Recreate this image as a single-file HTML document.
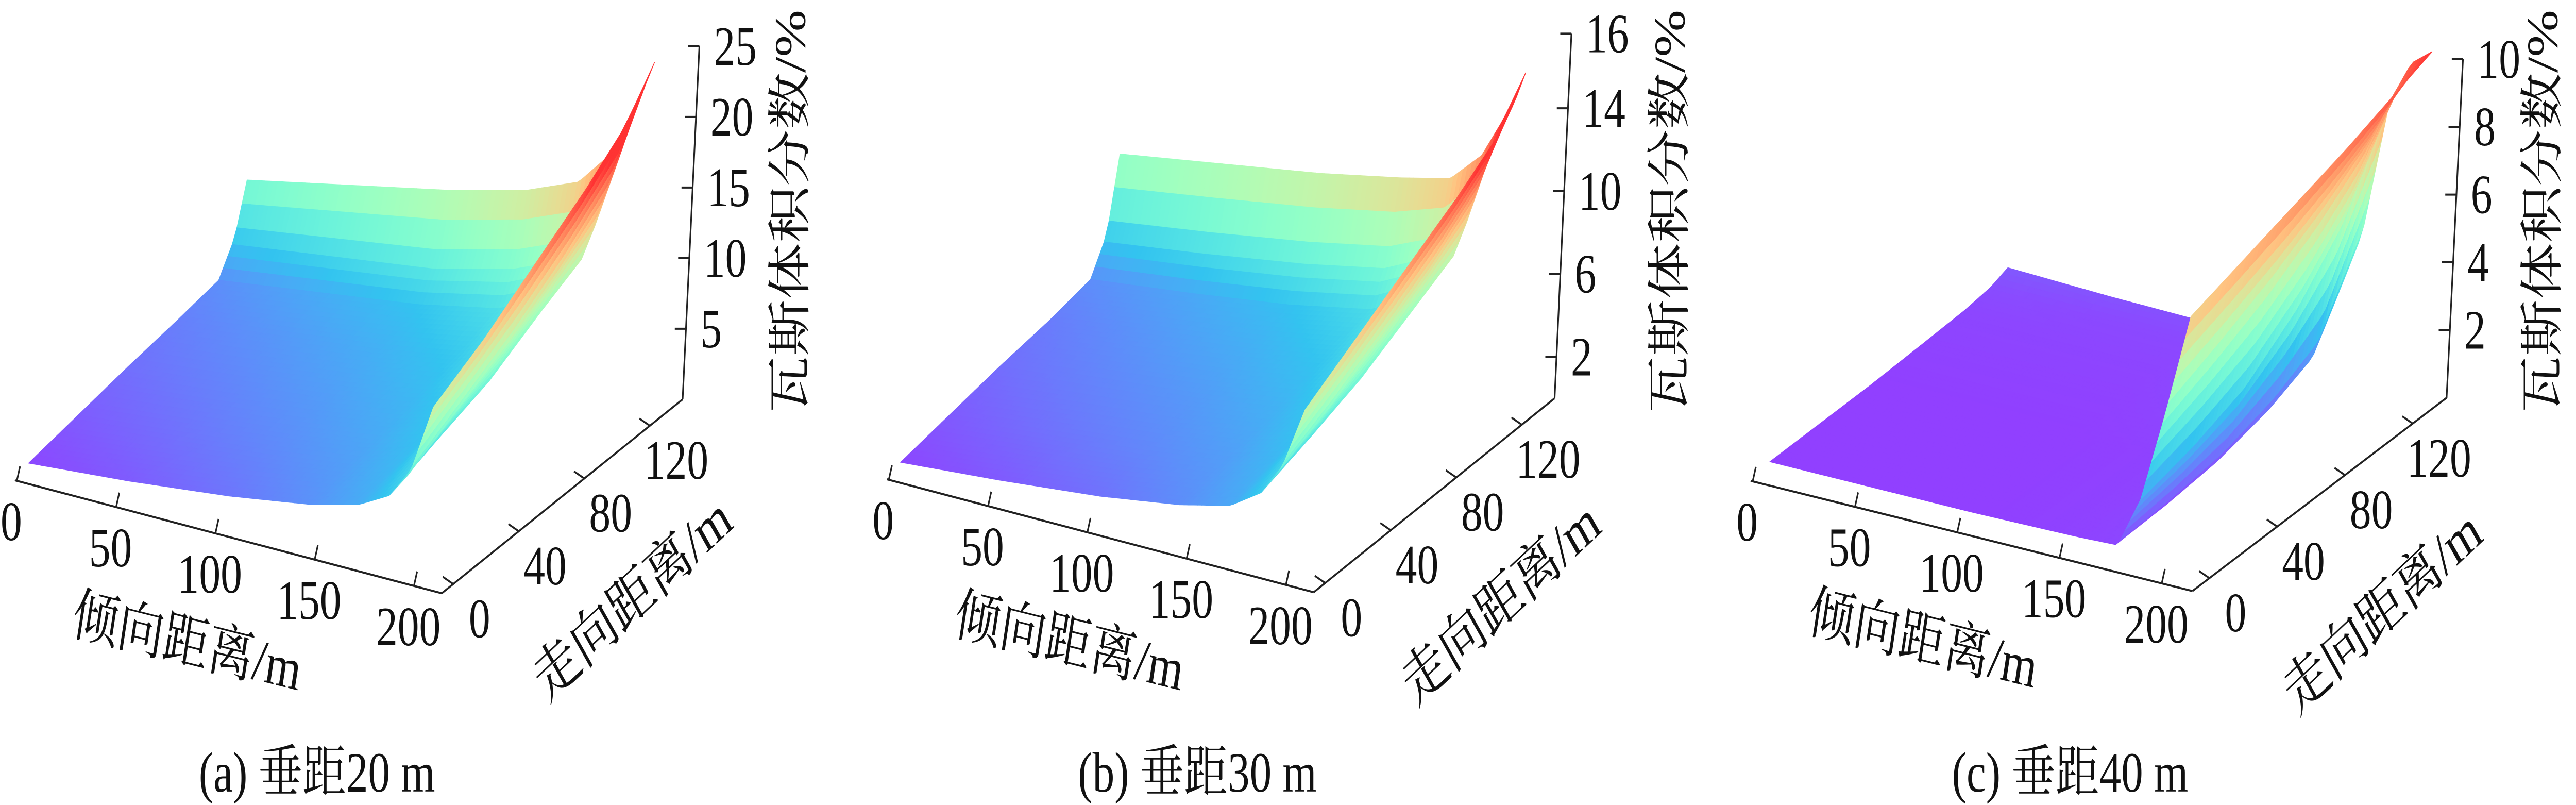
<!DOCTYPE html>
<html><head><meta charset="utf-8">
<style>
html,body{margin:0;padding:0;background:#fff;width:100%;height:100%;overflow:hidden;}
svg{display:block;width:100vw;height:100vh;}
text{font-family:"Liberation Serif","Noto Serif CJK SC","Noto Sans CJK SC",serif;fill:#111;}
</style></head>
<body>
<svg id="fig" viewBox="0 0 6461 1562" preserveAspectRatio="none" overflow="hidden" xmlns="http://www.w3.org/2000/svg">
<rect width="6461" height="1562" fill="#fff"/>
<g id="pa"></g>
<g id="pb"></g>
<g id="pc"></g>
<text x="795" y="1536" font-size="110" text-anchor="middle">(a)  垂距20 m</text>
<text x="3003" y="1536" font-size="110" text-anchor="middle">(b)  垂距30 m</text>
<text x="5192" y="1536" font-size="110" text-anchor="middle">(c)  垂距40 m</text>
</svg>
<script>
// ---- data: panel (a) ----
const dipA=[0,50,100,140,165,180,190,200];
const strikeA=[0,30,60,90,115,124,130];
const zA=[
 [0.6,1.2,2.0,2.9,3.8,5,7,12],
 [1.2,1.9,2.7,3.5,4.5,6.3,9,14],
 [1.8,2.5,3.3,4.2,5.3,7.5,11,16.5],
 [2.3,3.1,4,5,6.5,9.5,13.5,19],
 [2.8,3.8,4.8,6,7.8,11,16,21.5],
 [5,6,7,8.5,10,13,18,23],
 [8.5,10,11.5,13,14.5,17,20.5,24.3]];
// ---- data: panel (b) ----
const dipB=[0,50,100,140,165,180,190,200];
const strikeB=[0,30,60,90,115,124,130];
const zB=[
 [0.4,0.8,1.3,1.9,2.5,3.5,5,8],
 [0.8,1.3,1.8,2.3,3,4.3,6.2,9.5],
 [1.2,1.7,2.2,2.8,3.6,5.2,7.7,11],
 [1.5,2.1,2.7,3.4,4.4,6.5,9.3,12.5],
 [1.9,2.5,3.2,4,5.3,7.6,11,14],
 [3.5,4.2,5,5.8,7,9,12.5,15],
 [7,7.8,8.6,9.4,10,11.5,13.5,16]];
// ---- data: panel (c) ----
const dipC=[0,50,100,150,170,180,190,200];
const strikeC=[0,30,60,90,115,130,140];
const zC=[
 [0.2,0.2,0.2,0.25,0.3,1.8,4.5,7.5],
 [0.2,0.2,0.2,0.25,0.35,2.2,5.2,8],
 [0.2,0.2,0.2,0.25,0.5,2.8,6,8.5],
 [0.25,0.25,0.25,0.35,0.9,4,7,9],
 [0.3,0.3,0.3,0.5,1.5,5.5,8,9.5],
 [0.4,0.35,0.35,1,3,7,9,9.8],
 [0.6,0.5,0.45,2,4,8,9.5,10]];
// ---- tick data ----
const dipTicks=[0,50,100,150,200];
const strikeTicks=[0,40,80,120];
const zTicksA=[5,10,15,20,25];
const zTickLabelsA=["5","10","15","20","25"];
const zTicksB=[2,6,10,14,17.6];
const zTickLabelsB=["2","6","10","14","16"];
const zTicksC=[2,4,6,8,10];
const zTickLabelsC=["2","4","6","8","10"];

const NS="http://www.w3.org/2000/svg";
function mk(tag,attrs,parent){const e=document.createElementNS(NS,tag);for(const k in attrs)e.setAttribute(k,attrs[k]);parent.appendChild(e);return e;}

const panels=[
 {id:'pa',key:'a',D:dipA,S:strikeA,Z:zA,A:[71,915],ud:[4.98,1.02],us:[4.11,-2.56],uz:[1.68,-27.4],
  dLo:-1,dHi:214,sLo:-7,sHi:140,zLo:0,zHi:25,vmax:19,zt:zTicksA,ztl:zTickLabelsA,
  dipTitle:[470,1245],strikeTitle:[1585,1160],zTitle:[1985,410]},
 {id:'pb',key:'b',D:dipB,S:strikeB,Z:zB,A:[2258,913],ud:[4.98,1.02],us:[4.11,-2.56],uz:[2.4,-40.2],
  dLo:-1,dHi:214,sLo:-7,sHi:140,zLo:0,zHi:17.6,vmax:13,zt:zTicksB,ztl:zTickLabelsB,
  dipTitle:[2683,1245],strikeTitle:[3763,1168],zTitle:[4191,410]},
 {id:'pc',key:'c',D:dipC,S:strikeC,Z:zC,A:[4438.5,909],ud:[5.13,0.99],us:[4.25,-2.5],uz:[4.1,-65.7],
  dLo:-1,dHi:215,sLo:-10,sHi:140,zLo:0,zHi:10,vmax:10,zt:zTicksC,ztl:zTickLabelsC,
  dipTitle:[4824,1240],strikeTitle:[5974,1185],zTitle:[6380,410]}
];

function P(p,d,s,z){return [p.A[0]+d*p.ud[0]+s*p.us[0]+z*p.uz[0], p.A[1]+d*p.ud[1]+s*p.us[1]+z*p.uz[1]];}
function seg(arr,v){let i=0;while(i<arr.length-2&&v>arr[i+1])i++;const f=(v-arr[i])/(arr[i+1]-arr[i]);return [i,Math.max(0,Math.min(1,f))];}
function zAt(p,d,s){const [i,fd]=seg(p.D,d),[j,fs]=seg(p.S,s);const Z=p.Z;
 return (1-fd)*(1-fs)*Z[j][i]+fd*(1-fs)*Z[j][i+1]+(1-fd)*fs*Z[j+1][i]+fd*fs*Z[j+1][i+1];}
function color(t){t=Math.max(0,Math.min(1,t));let r=Math.min(1,Math.abs(2*t-0.5)),g=Math.sin(Math.PI*t),b=Math.cos(Math.PI/2*t);
 const a=0.8;const f=c=>Math.round(255*(1-a)+255*a*c);return `rgb(${f(r)},${f(g)},${f(b)})`;}

panels.forEach(p=>{
 const G=document.getElementById(p.id);
 const surf=mk('g',{},G);
 
 
 const d0=p.D[0],d1=p.D[p.D.length-1],s0=p.S[0],s1=p.S[p.S.length-1];
 const nd=90,ns=52,quads=[];
 for(let i=0;i<nd;i++)for(let j=0;j<ns;j++){
  const da=d0+(d1-d0)*i/nd,db=d0+(d1-d0)*(i+1)/nd,sa=s0+(s1-s0)*j/ns,sb=s0+(s1-s0)*(j+1)/ns;
  const z1=zAt(p,da,sa),z2=zAt(p,db,sa),z3=zAt(p,db,sb),z4=zAt(p,da,sb);
  const pts=[P(p,da,sa,z1),P(p,db,sa,z2),P(p,db,sb,z3),P(p,da,sb,z4)];
  const gy=P(p,(da+db)/2,(sa+sb)/2,0)[1];
  quads.push({pts,gy,zm:(z1+z2+z3+z4)/4});
 }
 quads.sort((a,b)=>a.gy-b.gy);
 quads.forEach(q=>{const c=color(q.zm/p.vmax);
  mk('polygon',{points:q.pts.map(v=>v[0].toFixed(1)+','+v[1].toFixed(1)).join(' '),fill:c,stroke:c,'stroke-width':1.5},surf);});

 const ax=mk('g',{stroke:'#222','stroke-width':4,fill:'none'},G);
 
 
 const a0=P(p,p.dLo,p.sLo,0),a1=P(p,p.dHi,p.sLo,0),a2=P(p,p.dHi,p.sHi,0),a3=P(p,p.dHi,p.sHi,p.zHi);
 const dl=mk('line',{x1:a0[0],y1:a0[1],x2:a1[0],y2:a1[1]},ax);
 
 
 const sl=mk('line',{x1:a1[0],y1:a1[1],x2:a2[0],y2:a2[1]},ax);
 
 
 const zl=mk('line',{x1:a2[0],y1:a2[1],x2:a3[0],y2:a3[1]},ax);
 
 

 dipTicks.forEach(v=>{const t=P(p,v,p.sLo,0);
  const tk=mk('line',{x1:t[0],y1:t[1],x2:t[0]+8,y2:t[1]-28},ax);
  
  
  const lb=mk('text',{x:t[0]-14,y:t[1]+78+37,'font-size':108,'text-anchor':'middle',stroke:'none'},G);
  lb.textContent=v;
  
  });
 strikeTicks.forEach(v=>{const t=P(p,p.dHi,v,0);
  const tk=mk('line',{x1:t[0],y1:t[1],x2:t[0]-26,y2:t[1]-14},ax);
  
  
  const lb=mk('text',{x:t[0]+66,y:t[1]+66+37,'font-size':108,'text-anchor':'middle',stroke:'none'},G);
  lb.textContent=v;
  
  });
 p.zt.forEach((v,k)=>{const t=P(p,p.dHi,p.sHi,v);
  const tk=mk('line',{x1:t[0],y1:t[1],x2:t[0]-28,y2:t[1]},ax);
  
  
  const lb=mk('text',{x:t[0]+36,y:t[1]+36,'font-size':108,'text-anchor':'start',stroke:'none'},G);
  lb.textContent=p.ztl[k];
  
  });

 const dt=mk('text',{x:p.dipTitle[0],y:p.dipTitle[1]+40,'font-size':115,'text-anchor':'middle',transform:`rotate(11 ${p.dipTitle[0]} ${p.dipTitle[1]})`},G);
 dt.textContent='倾向距离/m';
 
 
 const st=mk('text',{x:p.strikeTitle[0],y:p.strikeTitle[1]+40,'font-size':115,'text-anchor':'middle',transform:`rotate(-36 ${p.strikeTitle[0]} ${p.strikeTitle[1]})`},G);
 st.textContent='走向距离/m';
 
 
 const zt=mk('text',{x:p.zTitle[0],y:p.zTitle[1]+34,'font-size':110,'text-anchor':'middle',transform:`rotate(-90 ${p.zTitle[0]} ${p.zTitle[1]})`},G);
 zt.textContent='瓦斯体积分数/%';
 
 
});
</script>
</body></html>
